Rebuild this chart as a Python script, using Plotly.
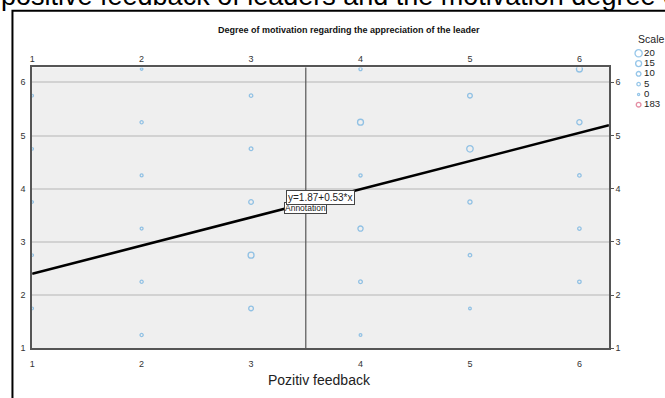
import plotly.graph_objects as go

# ---------------- data ----------------
x_vals = [1, 1, 1, 1, 1,
          2, 2, 2, 2, 2, 2,
          3, 3, 3, 3, 3,
          4, 4, 4, 4, 4, 4,
          5, 5, 5, 5, 5,
          6, 6, 6, 6, 6]
y_vals = [5.75, 4.75, 3.75, 2.75, 1.75,
          6.25, 5.25, 4.25, 3.25, 2.25, 1.25,
          5.75, 4.75, 3.75, 2.75, 1.75,
          6.25, 5.25, 4.25, 3.25, 2.25, 1.25,
          5.75, 4.75, 3.75, 2.75, 1.75,
          6.25, 5.25, 4.25, 3.25, 2.25]
counts = [1, 1, 1, 1, 1,
          1, 4, 3, 3, 4, 4,
          5, 6, 10, 15, 10,
          4, 15, 4, 12, 6, 2,
          10, 17, 8, 5, 2,
          15, 12, 5, 5, 5]

intercept = 1.87
slope = 0.53
ref_line_x = 3.5

x_ticks = [1, 2, 3, 4, 5, 6]
y_ticks = [1, 2, 3, 4, 5, 6]
x_range = [1, 6.27]
y_range = [1, 6.28]

legend_title = "Scale"
legend_labels = ["20", "15", "10", "5", "0", "183"]
legend_counts = [20, 15, 10, 5, 0, 10]

main_title = "positive feedback of leaders and the motivation degree of"
chart_title = "Degree of motivation regarding the appreciation of the leader"
x_title = "Pozitiv feedback"
eq_text = "y=%.2f+%.2f*x" % (intercept, slope)

# ---------------- style ----------------
W, H = 665, 398
FONT = "Liberation Sans, Arial, sans-serif"
DOT = "#6aaee0"
PINK = "#d9607e"


def msize(c):
    return 2.2 + 0.25 * c


px_l, px_r = 29.3, 608.7
px_t, px_b = 68.3, 352.7
xdom = [px_l / W, px_r / W]
ydom = [(H - px_b) / H, (H - px_t) / H]

fig = go.Figure()

# scatter points
fig.add_trace(go.Scatter(
    x=x_vals, y=y_vals, mode="markers",
    marker=dict(symbol="circle-open", size=[msize(c) for c in counts],
                color=DOT, line=dict(width=1.3, color=DOT)),
    showlegend=False, hoverinfo="skip"))

# regression line
fig.add_trace(go.Scatter(
    x=x_range, y=[intercept + slope * v for v in x_range], mode="lines",
    line=dict(color="black", width=2.6), showlegend=False, hoverinfo="skip"))

# dummy trace to activate top/right axes
fig.add_trace(go.Scatter(x=[None], y=[None], xaxis="x2", yaxis="y2",
                         showlegend=False, hoverinfo="skip"))

# legend (drawn on pixel overlay axes)
leg_x = 638.5
leg_y0 = 54.0
leg_dy = 10.4
leg_colors = [DOT] * (len(legend_labels) - 1) + [PINK]
leg_y = [leg_y0 + i * leg_dy for i in range(len(legend_labels))]
fig.add_trace(go.Scatter(
    x=[leg_x] * len(legend_labels), y=leg_y, mode="markers",
    marker=dict(symbol="circle-open", size=[msize(c) for c in legend_counts],
                color=leg_colors, line=dict(width=1.3, color=leg_colors)),
    xaxis="x3", yaxis="y3", showlegend=False, hoverinfo="skip", cliponaxis=False))
fig.add_trace(go.Scatter(
    x=[leg_x + 5.5] * len(legend_labels), y=leg_y, mode="text",
    text=legend_labels, textposition="middle right",
    textfont=dict(family=FONT, size=9.6, color="#222"),
    xaxis="x3", yaxis="y3", showlegend=False, hoverinfo="skip", cliponaxis=False))
fig.add_trace(go.Scatter(
    x=[leg_x - 0.5], y=[leg_y0 - 13.3], mode="text",
    text=[legend_title], textposition="middle right",
    textfont=dict(family=FONT, size=10.5, color="#222"),
    xaxis="x3", yaxis="y3", showlegend=False, hoverinfo="skip", cliponaxis=False))

tickfont = dict(family=FONT, size=9, color="#333")

fig.update_layout(
    width=W, height=H,
    margin=dict(l=0, r=0, t=0, b=0),
    paper_bgcolor="white",
    plot_bgcolor="rgba(0,0,0,0)",
    showlegend=False,
    xaxis=dict(domain=xdom, range=x_range, tickvals=x_ticks, showgrid=False,
               zeroline=False, showline=True, linecolor="#555", linewidth=1.5,
               ticks="", tickfont=tickfont, ticklabelstandoff=6),
    xaxis2=dict(domain=xdom, range=x_range, tickvals=x_ticks, overlaying="x",
                side="top", showgrid=False, zeroline=False, showline=True,
                linecolor="#555", linewidth=1.5, ticks="", tickfont=tickfont,
                anchor="y", ticklabelstandoff=0),
    yaxis=dict(domain=ydom, range=y_range, tickvals=y_ticks, showgrid=True,
               gridcolor="#d2d2d2", gridwidth=2, zeroline=False, showline=True,
               linecolor="#555", linewidth=1.5, ticks="", tickfont=tickfont,
               ticklabelstandoff=3),
    yaxis2=dict(domain=ydom, range=y_range, tickvals=y_ticks, overlaying="y",
                side="right", showgrid=False, zeroline=False, showline=True,
                linecolor="#555", linewidth=1.5, ticks="outside", ticklen=3,
                tickcolor="#555", tickfont=tickfont, anchor="x"),
    xaxis3=dict(domain=[0, 1], range=[0, W], visible=False, fixedrange=True,
                anchor="y3"),
    yaxis3=dict(domain=[0, 1], range=[H, 0], visible=False, fixedrange=True,
                anchor="x3"),
)

# shapes
fig.add_shape(type="rect", xref="x domain", yref="y domain", x0=0, x1=1,
              y0=0, y1=1, fillcolor="#efefef", line=dict(width=0), layer="below")
fig.add_shape(type="line", xref="x", yref="y domain", x0=ref_line_x, x1=ref_line_x,
              y0=0, y1=1, line=dict(color="#555", width=1.2), layer="above")
fig.add_shape(type="rect", xref="paper", yref="paper", x0=9.5 / W, x1=1.1,
              y0=-0.1, y1=(H - 11) / H, line=dict(color="black", width=2))

# annotations
fig.add_annotation(text=main_title, xref="paper", yref="paper", x=-3 / W,
                   y=(H - 12) / H, xanchor="left", yanchor="bottom",
                   showarrow=False, borderpad=0,
                   font=dict(family=FONT, size=27, color="black"))
fig.add_annotation(text="<b>" + chart_title + "</b>", xref="paper", yref="paper",
                   x=348 / W, y=(H - 30.7) / H, xanchor="center", yanchor="middle",
                   showarrow=False, font=dict(family=FONT, size=9, color="#111"))
fig.add_annotation(text=x_title, xref="paper", yref="paper", x=318 / W,
                   y=(H - 385) / H, xanchor="center", yanchor="middle",
                   showarrow=False, font=dict(family=FONT, size=14, color="#222"))
fig.add_annotation(text="Annotation", xref="x", yref="y", x=ref_line_x, y=3.63,
                   showarrow=False, bgcolor="white", bordercolor="#444",
                   borderwidth=1, borderpad=0,
                   font=dict(family=FONT, size=8.5, color="#222"))
fig.add_annotation(text=eq_text, xref="x", yref="y", x=3.634, y=3.835,
                   showarrow=False, bgcolor="white", bordercolor="#444",
                   borderwidth=1, borderpad=1,
                   font=dict(family=FONT, size=10, color="#222"))

fig.write_html("out.html")
